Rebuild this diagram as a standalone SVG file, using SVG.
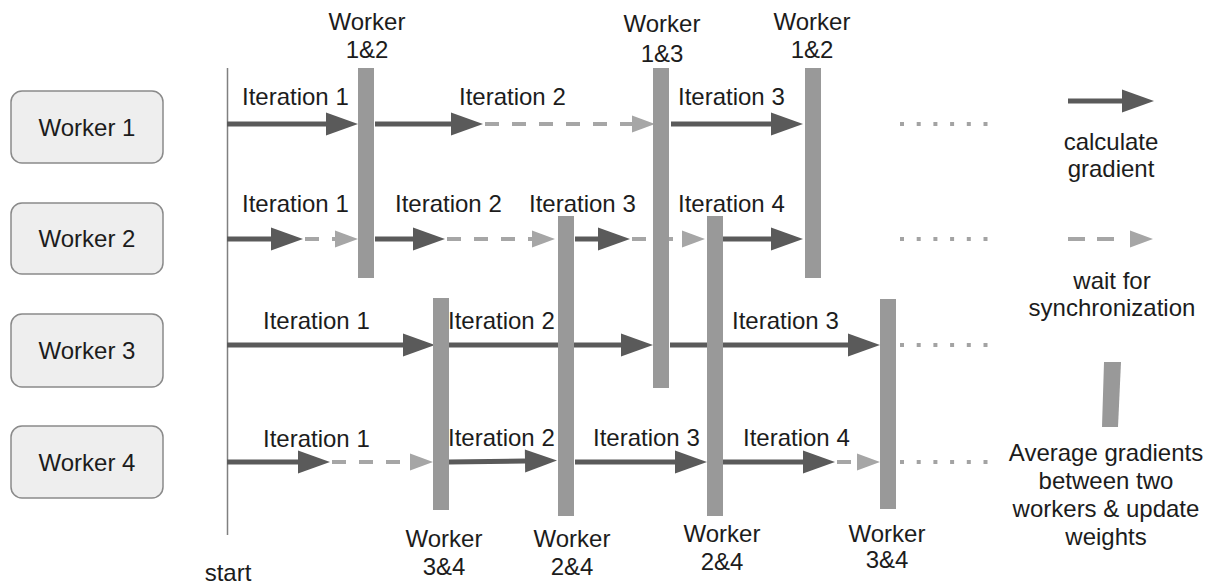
<svg xmlns="http://www.w3.org/2000/svg" width="1221" height="584" viewBox="0 0 1221 584">
  <style>
    text { font-family: "Liberation Sans", Arial, sans-serif; font-size: 24px; fill: #1c1c1c; }
    .mid { text-anchor: middle; }
    .box { fill: #eeeeee; stroke: #8a8a8a; stroke-width: 1.5; }
    .calc { stroke: #5a5a5a; stroke-width: 5; fill: none; marker-end: url(#headDark); }
    .wait { stroke: #a6a6a6; stroke-width: 4; fill: none; stroke-dasharray: 14 13; marker-end: url(#headLight); }
    .dots { stroke: #a3a3a3; stroke-width: 4; fill: none; stroke-dasharray: 4 12.7; }
    .bar { fill: #999999; }
    .axis { stroke: #808080; stroke-width: 1.5; }
  </style>
  <defs>
    <marker id="headDark" markerUnits="userSpaceOnUse" markerWidth="32" markerHeight="23" refX="0" refY="11.5" orient="auto" overflow="visible">
      <path d="M0,0 L32,11.5 L0,23 Z" fill="#5a5a5a"/>
    </marker>
    <marker id="headLight" markerUnits="userSpaceOnUse" markerWidth="23" markerHeight="17" refX="0" refY="8.5" orient="auto" overflow="visible">
      <path d="M0,0 L23,8.5 L0,17 Z" fill="#a6a6a6"/>
    </marker>
  </defs>

  <rect width="1221" height="584" fill="#ffffff"/>

  <!-- worker nodes -->
  <g id="worker1">
    <rect class="box" x="11" y="91" width="152" height="72" rx="11"/>
    <text class="mid" x="87" y="136">Worker 1</text>
  </g>
  <g id="worker2">
    <rect class="box" x="11" y="203" width="152" height="71" rx="11"/>
    <text class="mid" x="87" y="247">Worker 2</text>
  </g>
  <g id="worker3">
    <rect class="box" x="11" y="314" width="152" height="73" rx="11"/>
    <text class="mid" x="87" y="359">Worker 3</text>
  </g>
  <g id="worker4">
    <rect class="box" x="11" y="426" width="152" height="72" rx="11"/>
    <text class="mid" x="87" y="471">Worker 4</text>
  </g>

  <!-- time origin -->
  <g id="start">
    <line class="axis" x1="227.5" y1="68" x2="227.5" y2="535"/>
    <text class="mid" x="228" y="581">start</text>
  </g>

  <!-- connectors: compute (solid) and wait (dashed) segments per worker -->
  <g id="connectors">
    <!-- worker 1 -->
    <line class="calc" x1="227" y1="124" x2="326" y2="124"/>
    <line class="calc" x1="375" y1="124" x2="451" y2="124"/>
    <line class="wait" x1="485" y1="124" x2="632" y2="124"/>
    <line class="calc" x1="671" y1="124" x2="771" y2="124"/>
    <line class="dots" x1="900" y1="124" x2="988" y2="124"/>
    <!-- worker 2 -->
    <line class="calc" x1="227" y1="239" x2="271" y2="239"/>
    <line class="wait" x1="305" y1="239" x2="335" y2="239"/>
    <line class="calc" x1="375" y1="239" x2="413" y2="239"/>
    <line class="wait" x1="447" y1="239" x2="532" y2="239"/>
    <line class="calc" x1="575" y1="239" x2="598" y2="239"/>
    <line class="wait" x1="632" y1="239" x2="682" y2="239"/>
    <line class="calc" x1="723" y1="239" x2="771" y2="239"/>
    <line class="dots" x1="900" y1="239" x2="988" y2="239"/>
    <!-- worker 3 -->
    <line class="calc" x1="227" y1="345" x2="403" y2="345"/>
    <line class="calc" x1="449" y1="345" x2="621" y2="345"/>
    <line class="calc" x1="670" y1="345" x2="848" y2="345"/>
    <line class="dots" x1="900" y1="345" x2="988" y2="345"/>
    <!-- worker 4 -->
    <line class="calc" x1="227" y1="462" x2="298" y2="462"/>
    <line class="wait" x1="332" y1="462" x2="410" y2="462"/>
    <line class="calc" x1="449" y1="462" x2="525" y2="461"/>
    <line class="calc" x1="575" y1="462" x2="675" y2="462"/>
    <line class="calc" x1="723" y1="462" x2="803" y2="462"/>
    <line class="wait" x1="837" y1="462" x2="857" y2="462"/>
    <line class="dots" x1="900" y1="462" x2="988" y2="462"/>
  </g>

  <!-- iteration labels -->
  <g id="iteration-labels">
    <text x="242" y="105">Iteration 1</text>
    <text x="459" y="105">Iteration 2</text>
    <text x="678" y="105">Iteration 3</text>
    <text x="242" y="212">Iteration 1</text>
    <text x="395" y="212">Iteration 2</text>
    <text x="529" y="212">Iteration 3</text>
    <text x="678" y="212">Iteration 4</text>
    <text x="263" y="329">Iteration 1</text>
    <text x="448" y="329">Iteration 2</text>
    <text x="732" y="329">Iteration 3</text>
    <text x="263" y="447">Iteration 1</text>
    <text x="448" y="446">Iteration 2</text>
    <text x="593" y="446">Iteration 3</text>
    <text x="743" y="446">Iteration 4</text>
  </g>

  <!-- synchronisation bars (gradient averaging between two workers) -->
  <g id="sync-1-2-a">
    <rect class="bar" x="358" y="68" width="16" height="210"/>
    <text class="mid" x="367" y="30">Worker</text>
    <text class="mid" x="367" y="58">1&amp;2</text>
  </g>
  <g id="sync-3-4-a">
    <rect class="bar" x="433" y="298" width="16" height="212"/>
    <text class="mid" x="444" y="547">Worker</text>
    <text class="mid" x="444" y="575">3&amp;4</text>
  </g>
  <g id="sync-2-4-a">
    <rect class="bar" x="558" y="216" width="16" height="300"/>
    <text class="mid" x="572" y="547">Worker</text>
    <text class="mid" x="572" y="575">2&amp;4</text>
  </g>
  <g id="sync-1-3">
    <rect class="bar" x="653" y="68" width="16" height="320"/>
    <text class="mid" x="662" y="32">Worker</text>
    <text class="mid" x="662" y="62">1&amp;3</text>
  </g>
  <g id="sync-2-4-b">
    <rect class="bar" x="707" y="216" width="16" height="300"/>
    <text class="mid" x="722" y="542">Worker</text>
    <text class="mid" x="722" y="570">2&amp;4</text>
  </g>
  <g id="sync-1-2-b">
    <rect class="bar" x="805" y="68" width="16" height="210"/>
    <text class="mid" x="812" y="30">Worker</text>
    <text class="mid" x="812" y="58">1&amp;2</text>
  </g>
  <g id="sync-3-4-b">
    <rect class="bar" x="880" y="299" width="16" height="210"/>
    <text class="mid" x="887" y="542">Worker</text>
    <text class="mid" x="887" y="568">3&amp;4</text>
  </g>

  <!-- legend -->
  <g id="legend-calc">
    <line class="calc" x1="1068" y1="101" x2="1122" y2="101"/>
    <text class="mid" x="1111" y="150">calculate</text>
    <text class="mid" x="1111" y="177">gradient</text>
  </g>
  <g id="legend-wait">
    <line class="wait" x1="1068" y1="239" x2="1130" y2="239" style="stroke-dasharray: 17 12 17 16"/>
    <text class="mid" x="1112" y="289">wait for</text>
    <text class="mid" x="1112" y="316">synchronization</text>
  </g>
  <g id="legend-sync">
    <polygon class="bar" points="1104,362 1121,362 1118,427 1102,427"/>
    <text class="mid" x="1106" y="461">Average gradients</text>
    <text class="mid" x="1106" y="489">between two</text>
    <text class="mid" x="1106" y="517">workers &amp; update</text>
    <text class="mid" x="1106" y="545">weights</text>
  </g>
</svg>
